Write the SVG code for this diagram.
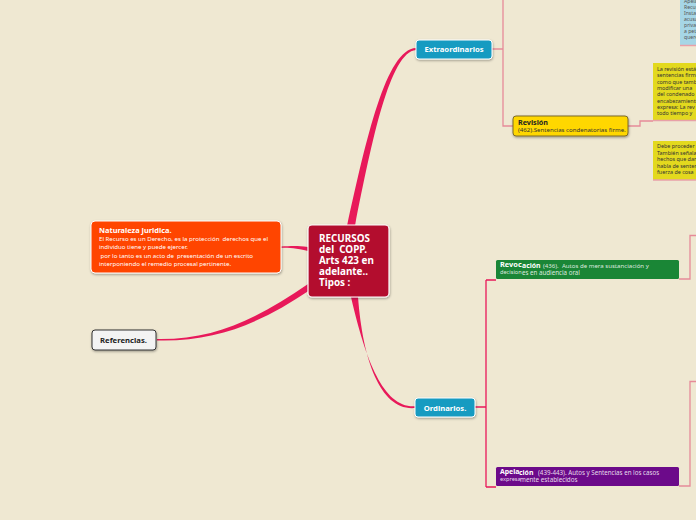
<svg xmlns="http://www.w3.org/2000/svg" width="696" height="520" viewBox="0 0 696 520">
<defs>
<filter id="sh" x="-10%" y="-10%" width="130%" height="150%">
<feDropShadow dx="0.5" dy="1.2" stdDeviation="0.8" flood-color="#000" flood-opacity="0.35"/>
</filter>
<style>
text{font-family:"Noto Sans","DejaVu Sans",sans-serif}
.b{font-weight:bold}
.w{fill:#fff}
.k{fill:#222}
.s{font-size:6.1px}
.n{font-size:5.4px;fill:#333}
.nb{font-size:5.1px;fill:#555}
.thin{fill:none;stroke:#E68A99;stroke-width:1.3}
.thick{fill:none;stroke:#E8195A;stroke-width:1.3}
.main{fill:#E8195A}
.ul{fill:none;stroke:#E8A0A8;stroke-width:1.5}
</style>
</defs>
<rect width="696" height="520" fill="#EFE8D2"/>

<g id="connectors">
<path class="main" d="M347,226 C366,140 386,49 416,48 L416,50 C390,52 372,140 355,226 Z"/>
<path class="main" d="M351,297 C366,362 384,408 415,406.3 L415,408 C381,411 363,362 358,297 Z"/>
<path class="main" d="M308,247 C296,245.5 290,246.3 281,246.5 L281,247.8 C290,248 296,248 308,251 Z"/>
<path class="main" d="M308,284 C258,318 215,340 157,339 L157,340.4 C218,342 262,322 310,290 Z"/>
<path class="thin" d="M492,49 H503 M503,0 V126 H513"/>
<path class="thin" d="M628,126 H640 V121 H653"/>
<path class="thick" d="M475,407 H486 M486,280 V487 M486,280 H496 M486,487 H496"/>
<path class="thin" d="M679,279 H690 V235.5 H696 M679,486 H690 V381.5 H696"/>
</g>

<g id="central">
<rect x="308" y="225" width="81" height="72" rx="4" fill="#B30D2F" stroke="#fff" stroke-width="1.2" filter="url(#sh)"/>
<text class="b w" font-size="9.9" x="319" y="242">RECURSOS</text>
<text class="b w" font-size="9.9" x="319" y="253" xml:space="preserve">del  COPP.</text>
<text class="b w" font-size="9.9" x="319" y="264">Arts 423 en</text>
<text class="b w" font-size="9.9" x="319" y="275">adelante..</text>
<text class="b w" font-size="9.9" x="319" y="286">Tipos :</text>
</g>

<g id="naturaleza">
<rect x="91" y="221" width="190" height="52" rx="4" fill="#FF4500" stroke="#fff" stroke-width="1" filter="url(#sh)"/>
<text class="b w" font-size="7.4" x="99" y="233">Naturaleza Juridica.</text>
<text class="w s" x="99" y="240.5" xml:space="preserve">El Recurso es un Derecho, es la protección  derechos que el</text>
<text class="w s" x="99" y="249">individuo tiene y puede ejercer.</text>
<text class="w s" x="99" y="257.5" xml:space="preserve"> por lo tanto es un acto de  presentación de un escrito</text>
<text class="w s" x="99" y="266">interponiendo el remedio procesal pertinente.</text>
</g>

<g id="referencias">
<rect x="92" y="330" width="64" height="20" rx="3" fill="#F3F3F3" stroke="#333" stroke-width="1" filter="url(#sh)"/>
<text class="b" fill="#222" font-size="7.7" x="100" y="342.5">Referencias.</text>
</g>

<g id="extraordinarios">
<rect x="416" y="40" width="76" height="19" rx="3" fill="#169BC1" stroke="#fff" stroke-width="1" filter="url(#sh)"/>
<text class="b w" font-size="7.7" x="454" y="52.3" text-anchor="middle">Extraordinarios</text>
</g>

<g id="ordinarios">
<rect x="415" y="398" width="60" height="19" rx="3" fill="#169BC1" stroke="#fff" stroke-width="1" filter="url(#sh)"/>
<text class="b w" font-size="7.7" x="445" y="410.5" text-anchor="middle">Ordinarios.</text>
</g>

<g id="revision">
<rect x="513" y="116" width="115" height="20" rx="3" fill="#FFD700" stroke="#7A6A2A" stroke-width="1" filter="url(#sh)"/>
<text class="b k" font-size="7.2" x="518" y="125">Revisión</text>
<text class="s" fill="#333" x="518" y="131.8">(462).Sentencias condenatorias firme.</text>
</g>

<g id="revision-nota1">
<rect x="653" y="63" width="50" height="57" fill="#E3D91E"/>
<path class="ul" d="M653,120.5 H696"/>
<text class="n" x="657" y="71">La revisión está</text>
<text class="n" x="657" y="77.3">sentencias firmes</text>
<text class="n" x="657" y="83.6">como que tambien</text>
<text class="n" x="657" y="89.9">modificar una</text>
<text class="n" x="657" y="96.2">del condenado</text>
<text class="n" x="657" y="102.5">encabezamiento</text>
<text class="n" x="657" y="108.8">expresa: La rev</text>
<text class="n" x="657" y="115.1">todo tiempo y</text>
</g>

<g id="revision-nota2">
<rect x="653" y="141" width="50" height="39" fill="#E3D91E"/>
<path class="ul" d="M653,180 H696"/>
<text class="n" x="657" y="148">Debe proceder</text>
<text class="n" x="657" y="154.5">También señala</text>
<text class="n" x="657" y="161">hechos que dan</text>
<text class="n" x="657" y="167.5">habla de sentencia</text>
<text class="n" x="657" y="174">fuerza de cosa</text>
</g>

<g id="apelacion-nota">
<rect x="680" y="-2" width="20" height="47" fill="#A6D6E6"/>
<path class="ul" d="M680,45.5 H696"/>
<text class="nb" x="684" y="3">Apelación</text>
<text class="nb" x="684" y="9">Recurso</text>
<text class="nb" x="684" y="15">Instancia</text>
<text class="nb" x="684" y="21">acusado</text>
<text class="nb" x="684" y="27">privado</text>
<text class="nb" x="684" y="33">a petición</text>
<text class="nb" x="684" y="39">querellante</text>
</g>

<g id="revocacion">
<rect x="496" y="260" width="183" height="19" rx="1.5" fill="#1A8636"/>
<text class="b w" font-size="7.4" x="500" y="267">Revoc</text>
<text class="b w" font-size="6.9" x="522" y="268">ación</text>
<text class="w" font-size="6.1" x="543" y="268" fill-opacity="0.85" xml:space="preserve">(436).  Autos de mera sustanciación y</text>
<text class="w" font-size="5.6" x="500" y="273.5" fill-opacity="0.85">decision</text>
<text class="w" font-size="6.2" x="522" y="275" fill-opacity="0.85">es en audiencia oral</text>
</g>

<g id="apelacion">
<rect x="496" y="467" width="183" height="19" rx="1.5" fill="#6C0A8A"/>
<text class="b w" font-size="6.9" x="500" y="474">Apela</text>
<text class="b w" font-size="6.9" x="519" y="475">ción</text>
<text class="w" font-size="6.2" x="538" y="475" fill-opacity="0.85">(439-443). Autos y Sentencias en los casos</text>
<text class="w" font-size="5.6" x="500" y="480.5" fill-opacity="0.85">expresa</text>
<text class="w" font-size="6.3" x="520" y="482" fill-opacity="0.85">mente establecidos</text>
</g>
</svg>
